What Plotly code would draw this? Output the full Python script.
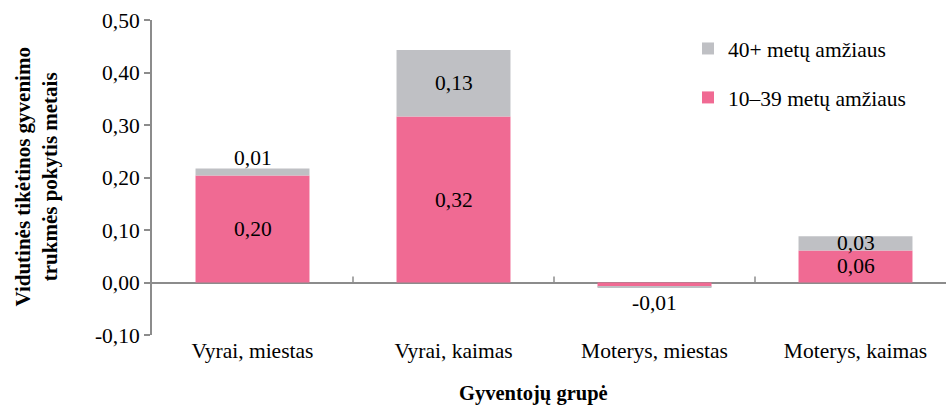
import plotly.graph_objects as go

categories = ["Vyrai, miestas", "Vyrai, kaimas", "Moterys, miestas", "Moterys, kaimas"]
young = [0.204, 0.316, -0.008, 0.061]      # 10–39 metų amžiaus
older = [0.013, 0.127, -0.002, 0.027]      # 40+ metų amžiaus
young_labels = ["0,20", "0,32", "-0,01", "0,06"]
older_labels = ["0,01", "0,13", "", "0,03"]
y_ticks = [-0.1, 0.0, 0.1, 0.2, 0.3, 0.4, 0.5]
y_tick_text = ["-0,10", "0,00", "0,10", "0,20", "0,30", "0,40", "0,50"]

PINK = "#F06A93"
GREY = "#BFC0C4"
AXIS = "#8C8C8C"
FONT = "Liberation Serif"
SIZE = 21.5

fig = go.Figure()
fig.add_bar(x=categories, y=young, name="10–39 metų amžiaus", marker_color=PINK,
            marker_line_width=0, width=0.567, legendgroup="a", legendrank=2)
fig.add_bar(x=categories, y=older, name="40+ metų amžiaus", marker_color=GREY,
            marker_line_width=0, width=0.567, legendgroup="b", legendrank=1)

lab_font = dict(family=FONT, size=SIZE, color="black")

# value labels: centred in each segment, or just outside a thin one
ann = []
for i, c in enumerate(categories):
    y, o = young[i], older[i]
    if y >= 0:
        ann.append(dict(x=c, y=y / 2, text=young_labels[i], showarrow=False,
                        xref="x", yref="y", yanchor="middle", font=lab_font))
    else:
        ann.append(dict(x=c, y=y + min(o, 0), text=young_labels[i], showarrow=False,
                        xref="x", yref="y", yanchor="top", yshift=-1, font=lab_font))
    if older_labels[i]:
        if o >= 0.02:
            ann.append(dict(x=c, y=y + o / 2, text=older_labels[i], showarrow=False,
                            xref="x", yref="y", yanchor="middle", font=lab_font))
        else:
            ann.append(dict(x=c, y=y + o, text=older_labels[i], showarrow=False,
                            xref="x", yref="y", yanchor="bottom", yshift=-3, font=lab_font))

# axis titles
ann.append(dict(x=(36 - 152) / 794, y=0.5, xref="paper", yref="paper",
                text="<b>Vidutinės tikėtinos gyvenimo<br>trukmės pokytis metais</b>",
                textangle=-90, showarrow=False, xanchor="center", yanchor="middle",
                font=dict(size=21, family=FONT, color="black")))
ann.append(dict(x=(533 - 152) / 794, y=-(393 - 335) / 315, xref="paper", yref="paper",
                text="<b>Gyventojų grupė</b>", showarrow=False,
                xanchor="center", yanchor="middle",
                font=dict(size=20.5, family=FONT, color="black")))

# small category-boundary ticks on the zero line
shapes = []
for k in range(len(categories) - 1):
    shapes.append(dict(type="line", xref="x", yref="y", x0=k + 0.5, x1=k + 0.5,
                       ysizemode="pixel", yanchor=0, y0=0, y1=6,
                       line=dict(color=AXIS, width=1.5)))

fig.update_layout(
    barmode="relative",
    width=946, height=407,
    margin=dict(l=152, r=0, t=20, b=72),
    plot_bgcolor="white", paper_bgcolor="white",
    font=dict(family=FONT, size=SIZE, color="black"),
    showlegend=True,
    legend=dict(x=(688 - 152) / 794, y=1 - (28 - 20) / 315, xanchor="left", yanchor="top",
                traceorder="grouped", tracegroupgap=18,
                font=dict(size=SIZE, family=FONT, color="black"), bgcolor="rgba(0,0,0,0)",
                itemwidth=30),
    annotations=ann,
    shapes=shapes,
    bargap=0.43,
)
fig.update_xaxes(range=[-0.5, -0.5 + 794 / 201], showline=False, ticks="",
                 showgrid=False, tickfont=dict(size=SIZE, family=FONT, color="black"))
fig.update_yaxes(range=[-0.1, 0.5], tickvals=y_ticks, ticktext=y_tick_text, showgrid=False,
                 showline=True, linecolor=AXIS, linewidth=2, ticks="outside",
                 ticklen=6, tickcolor=AXIS, tickwidth=2,
                 zeroline=True, zerolinecolor=AXIS, zerolinewidth=2,
                 tickfont=dict(size=SIZE, family=FONT, color="black"))

fig.write_html("out.html")
